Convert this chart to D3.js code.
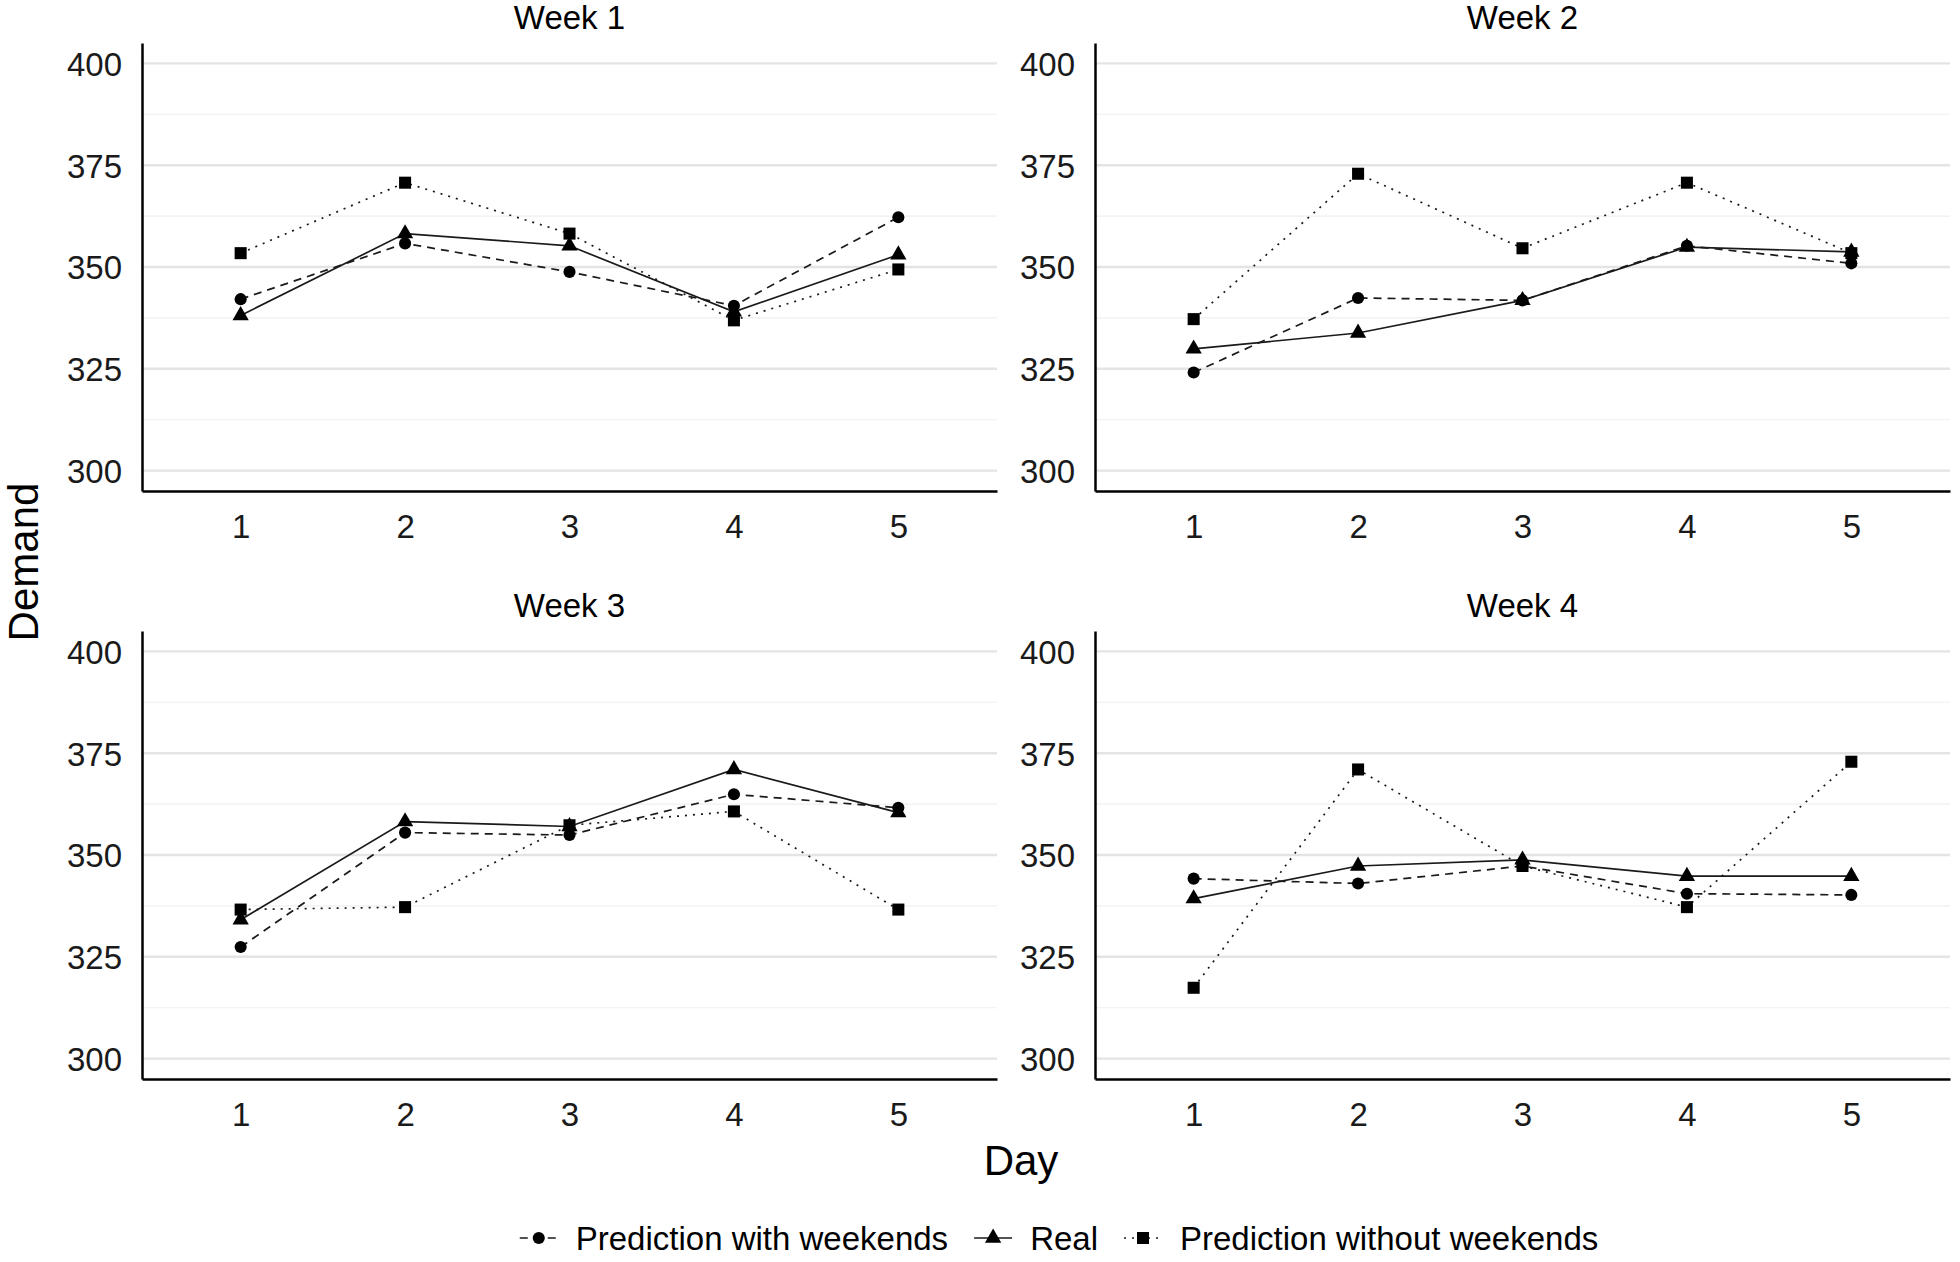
<!DOCTYPE html>
<html>
<head>
<meta charset="utf-8">
<script src="https://cdn.jsdelivr.net/npm/d3@7"></script>
<style>
  body { margin: 0; background: #fff; }
  text { font-family: "Liberation Sans", Arial, sans-serif; }
</style>
</head>
<body>
<svg id="chart" width="1960" height="1262"></svg>
<script>
const days = [1, 2, 3, 4, 5];
const weeks = ['Week 1', 'Week 2', 'Week 3', 'Week 4'];
const yTicks = [300, 325, 350, 375, 400];
const yMinor = [312.5, 337.5, 362.5, 387.5];

// one row per week, one value per day
const withWeekends = [
  [342.1, 355.8, 348.8, 340.5, 362.2],
  [324.1, 342.4, 341.8, 355.2, 350.9],
  [327.4, 355.5, 354.9, 364.9, 361.6],
  [344.2, 343.0, 347.3, 340.5, 340.2]
];
const real = [
  [338.1, 358.2, 355.2, 339.0, 353.0],
  [329.9, 333.8, 341.8, 354.9, 353.7],
  [334.1, 358.2, 357.0, 371.0, 360.4],
  [339.3, 347.3, 348.8, 344.8, 344.8]
];
const withoutWeekends = [
  [353.4, 370.7, 358.2, 336.9, 349.4],
  [337.2, 372.9, 354.6, 370.7, 353.4],
  [336.6, 337.2, 357.3, 360.7, 336.6],
  [317.4, 371.0, 347.3, 337.2, 372.9]
];

const series = [
  {name: 'Prediction with weekends', values: withWeekends, dash: '8,6', symbol: d3.symbolCircle, size: 115},
  {name: 'Real', values: real, dash: null, symbol: d3.symbolTriangle, size: 115},
  {name: 'Prediction without weekends', values: withoutWeekends, dash: '2,6', symbol: d3.symbolSquare, size: 145}
];

const svg = d3.select('#chart');
const ink = '#1a1a1a';

const colLeft = [142, 1095];
const panelW = 855;
const rowTop = [43, 631];
const panelH = 448;

weeks.forEach((week, w) => {
  const col = w % 2;
  const row = Math.floor(w / 2);
  const x0 = colLeft[col];
  const y0 = rowTop[row];

  const x = d3.scaleLinear().domain([0.4, 5.6]).range([x0, x0 + panelW]);
  const y = d3.scaleLinear().domain([295, 405]).range([y0 + panelH, y0]);

  const g = svg.append('g').attr('class', 'panel');

  // grid
  g.selectAll('line.minor')
    .data(yMinor)
    .enter()
    .append('line')
    .attr('x1', x0).attr('x2', x0 + panelW)
    .attr('y1', d => y(d)).attr('y2', d => y(d))
    .attr('stroke', '#efefef')
    .attr('stroke-width', 1.2);
  g.selectAll('line.major')
    .data(yTicks)
    .enter()
    .append('line')
    .attr('x1', x0).attr('x2', x0 + panelW)
    .attr('y1', d => y(d)).attr('y2', d => y(d))
    .attr('stroke', '#e4e4e4')
    .attr('stroke-width', 2.4);

  // axes
  const xAxis = g.append('g')
    .attr('transform', `translate(0,${y0 + panelH})`)
    .call(d3.axisBottom(x).tickValues(days).tickFormat(d3.format('d')).tickSize(0).tickPadding(24));
  const yAxis = g.append('g')
    .attr('transform', `translate(${x0},0)`)
    .call(d3.axisLeft(y).tickValues(yTicks).tickSize(0).tickPadding(20));
  [xAxis, yAxis].forEach(a => {
    a.select('.domain').attr('stroke', '#000').attr('stroke-width', 2.5);
    a.selectAll('text')
      .attr('font-size', 33)
      .attr('fill', ink)
      .style('font-family', '"Liberation Sans", Arial, sans-serif');
  });
  yAxis.selectAll('text').attr('dy', '0.36em');

  g.append('text')
    .attr('x', x0 + panelW / 2)
    .attr('y', y0 - 14)
    .attr('text-anchor', 'middle')
    .attr('font-size', 33)
    .attr('fill', '#000')
    .text(week);

  const line = d3.line()
    .x((d, i) => x(days[i]))
    .y(d => y(d));

  series.forEach(s => {
    const vals = s.values[w];
    g.append('path')
      .datum(vals)
      .attr('d', line)
      .attr('fill', 'none')
      .attr('stroke', ink)
      .attr('stroke-width', 1.7)
      .attr('stroke-dasharray', s.dash);
    g.selectAll(null)
      .data(vals)
      .enter()
      .append('path')
      .attr('transform', (d, i) => `translate(${x(days[i])},${y(d)})`)
      .attr('d', d3.symbol().type(s.symbol).size(s.size))
      .attr('fill', '#000');
  });
});

// axis titles
svg.append('text')
  .attr('x', 1021)
  .attr('y', 1175)
  .attr('text-anchor', 'middle')
  .attr('font-size', 42)
  .attr('fill', '#000')
  .text('Day');
svg.append('text')
  .attr('transform', 'translate(38,562) rotate(-90)')
  .attr('text-anchor', 'middle')
  .attr('font-size', 42)
  .attr('fill', '#000')
  .text('Demand');

// legend
const legend = svg.append('g');
const legendY = 1238;
const keyW = 38;
const keyGap = 18;
const itemGap = 26;
let cursor = 0;
series.forEach(s => {
  const item = legend.append('g');
  item.append('line')
    .attr('x1', 0).attr('x2', keyW)
    .attr('y1', 0).attr('y2', 0)
    .attr('stroke', ink)
    .attr('stroke-width', 1.7)
    .attr('stroke-dasharray', s.dash);
  item.append('path')
    .attr('transform', `translate(${keyW / 2},0)`)
    .attr('d', d3.symbol().type(s.symbol).size(s.size))
    .attr('fill', '#000');
  const t = item.append('text')
    .attr('x', keyW + keyGap)
    .attr('dy', '0.36em')
    .attr('font-size', 33)
    .attr('fill', '#000')
    .text(s.name);
  const wdt = keyW + keyGap + t.node().getComputedTextLength();
  item.attr('transform', `translate(${cursor},${legendY})`);
  cursor += wdt + itemGap;
});
const totalW = cursor - itemGap;
legend.attr('transform', `translate(${1059 - totalW / 2},0)`);
</script>
</body>
</html>
